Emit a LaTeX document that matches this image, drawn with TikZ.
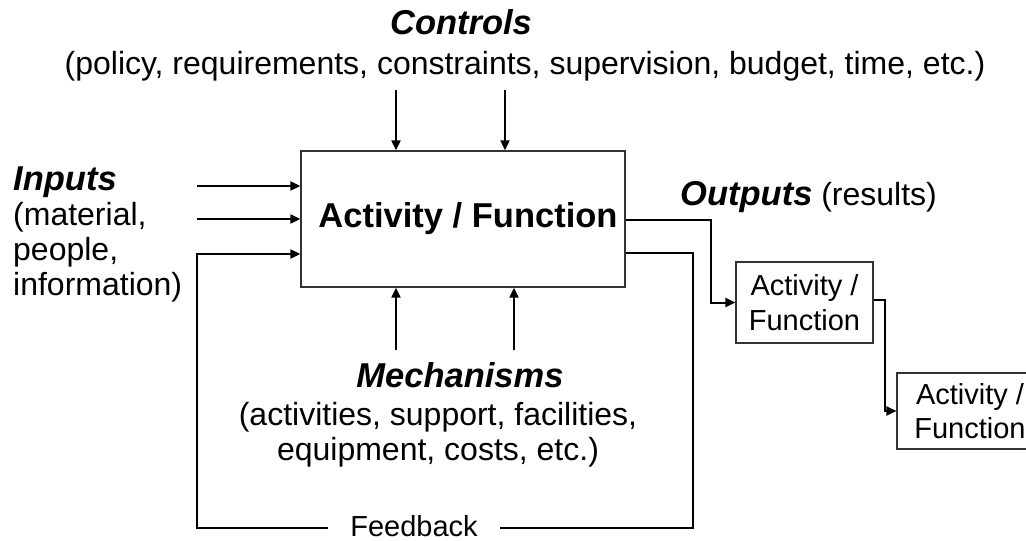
\documentclass[tikz,border=0pt]{standalone}
\usepackage{fontspec}
\setmainfont{Liberation Sans}
\usetikzlibrary{arrows.meta}
\begin{document}
\begin{tikzpicture}[x=1pt,y=-1pt,
  conn/.style={line width=2pt,line join=miter},
  arr/.style={conn,-{Triangle[length=10pt,width=9pt]}},
  bigbox/.style={draw=black!80,line width=1.3pt,minimum width=324pt,minimum height=136pt,inner sep=0pt},
  smallbox/.style={draw=black!80,line width=1.1pt,inner sep=0pt,align=center,font=\fontsize{29}{34}\selectfont},
  head/.style={anchor=base,font=\fontsize{34.5}{40}\selectfont\bfseries\itshape,inner sep=0pt},
  body/.style={anchor=base,font=\fontsize{32}{36}\selectfont,inner sep=0pt},
]
\useasboundingbox (0,0) rectangle (1026,541);
\begin{scope}
\clip (0,0) rectangle (1026,541);

% main box
\node[bigbox,font=\fontsize{34.5}{40}\selectfont\bfseries] (main) at (463,219) {\hspace*{10pt}Activity / Function};

% small boxes
\node[smallbox,minimum width=137pt,minimum height=81pt] (b2) at (804.5,302.5) {Activity /\\[1pt]Function};
\node[smallbox,minimum width=146pt,minimum height=76pt] (b3) at (970,411) {Activity /\\Function};

% texts
\node[head] (tc) at (461,34) {Controls};
\node[body] (tcd) at (525,74) {(policy, requirements, constraints, supervision, budget, time, etc.)};
\node[head,anchor=base west] (ti) at (13,190) {Inputs};
\node[body,anchor=base west] (ti1) at (13,225) {(material,};
\node[body,anchor=base west] (ti2) at (13,260) {people,};
\node[body,anchor=base west] (ti3) at (13,295) {information)};
\node[anchor=base west,inner sep=0pt] (to) at (680,205) {\fontsize{34.5}{40}\selectfont\bfseries\itshape Outputs\fontsize{32}{36}\selectfont\mdseries\upshape\ (results)};
\node[head] (tm) at (460,387) {Mechanisms};
\node[body] (tm1) at (438,425) {(activities, support, facilities,};
\node[body] (tm2) at (438,460) {equipment, costs, etc.)};
\node[font=\fontsize{29}{34}\selectfont,inner xsep=22pt,inner ysep=0pt] (fb) at (414,526) {Feedback};

% controls
\coordinate (c1) at (396,90);
\coordinate (c2) at (505,90);
\draw[arr] (c1) -- (c1 |- main.north);
\draw[arr] (c2) -- (c2 |- main.north);

% inputs
\coordinate (i1) at (197,186);
\coordinate (i2) at (197,219);
\draw[arr] (i1) -- (i1 -| main.west);
\draw[arr] (i2) -- (i2 -| main.west);

% mechanisms
\coordinate (m1) at (396,350);
\coordinate (m2) at (514,350);
\draw[arr] (m1) -- (m1 |- main.south);
\draw[arr] (m2) -- (m2 |- main.south);

% outputs
\coordinate (o1) at (711,220);
\draw[arr] (main.east |- o1) -- (o1) |- (b2.west);
\coordinate (o2) at (885,300);
\draw[arr] (b2.east |- o2) -- (o2) |- (b3.west);

% feedback
\coordinate (fr) at (693,253);
\coordinate (frb) at (693,528);
\coordinate (fl) at (197,528);
\coordinate (fi) at (197,254);
\draw[conn] (main.east |- fr) -- (fr) -- (frb) -- (frb -| fb.east);
\draw[arr] (fl -| fb.west) -- (fl) |- (fi -| main.west);
\end{scope}
\end{tikzpicture}
\end{document}
